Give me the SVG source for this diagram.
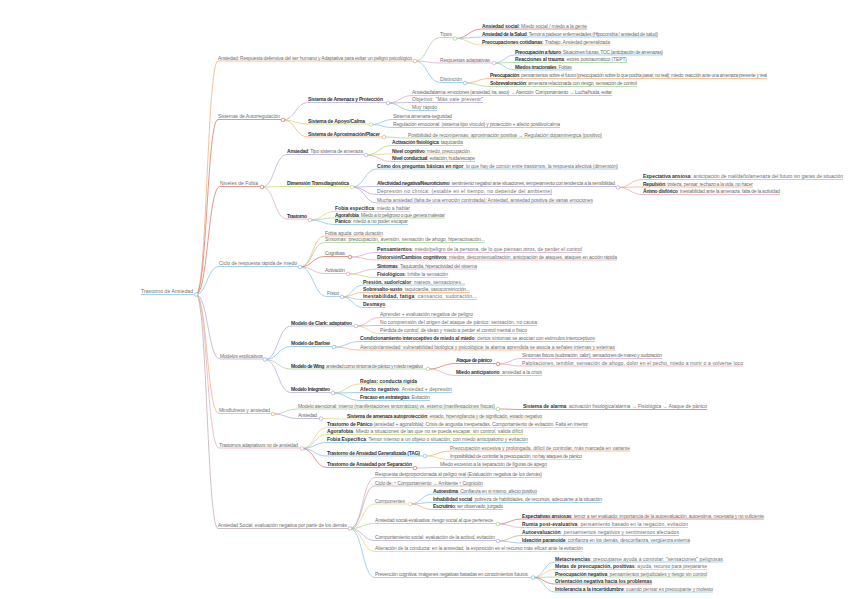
<svg xmlns="http://www.w3.org/2000/svg" width="848" height="599" viewBox="0 0 848 599">
<style>
text{font-family:"Liberation Sans",Arial,sans-serif;font-size:5px;fill:#707070}
.b{font-weight:bold;fill:#333}
.u,.e{fill:none;stroke-width:0.7}
.k{fill:#fff;stroke-width:0.7}
.or{stroke:#f1a86f}.rd{stroke:#d46a5c}.bl{stroke:#7cbfe4}.gr{stroke:#9dd08d}.pu{stroke:#b2a4d6}.pk{stroke:#e5a3b2}.ye{stroke:#e2cf7a}.gy{stroke:#b9a5a8}.lm{stroke:#c6d66c}.mv{stroke:#d8a4cf}
</style>
<rect width="848" height="599" fill="#fff"/>
<g id="connectors">
<path class="e or" d="M196 294.5C207 294.5 207 61 218 61"/>
<path class="e rd" d="M196 294.5C207 294.5 207 119.5 218 119.5"/>
<path class="e rd" d="M196 294.5C208 294.5 208 186.5 220 186.5"/>
<path class="e bl" d="M196 294.5C207 294.5 207 266.5 219 266.5"/>
<path class="e pu" d="M196 294.5C208 294.5 208 359 220 359"/>
<path class="e or" d="M196 294.5C207 294.5 207 413.5 219 413.5"/>
<path class="e pk" d="M196 294.5C207 294.5 207 448 219 448"/>
<path class="e gy" d="M196 294.5C207 294.5 207 528.5 218 528.5"/>
<path class="e gr" d="M415 61C427.5 61 427.5 37.5 440 37.5"/>
<path class="e mv" d="M415 61C427.5 61 427.5 63 440 63"/>
<path class="e bl" d="M415 61C427.5 61 427.5 82.5 440 82.5"/>
<path class="e rd" d="M455 38.5C468.5 38.5 468.5 29 482 29"/>
<path class="e bl" d="M455 38.5C468.5 38.5 468.5 37 482 37"/>
<path class="e ye" d="M455 38.5C468.5 38.5 468.5 45 482 45"/>
<path class="e bl" d="M494 63C504.5 63 504.5 55 515 55"/>
<path class="e gr" d="M494 63C504.5 63 504.5 62.5 515 62.5"/>
<path class="e bl" d="M494 63C504.5 63 504.5 70 515 70"/>
<path class="e or" d="M465 83C477.5 83 477.5 78.5 490 78.5"/>
<path class="e gr" d="M465 83C477.5 83 477.5 86.5 490 86.5"/>
<path class="e pu" d="M283 120C295.5 120 295.5 102.5 308 102.5"/>
<path class="e lm" d="M283 120C295.5 120 295.5 124 308 124"/>
<path class="e or" d="M283 120C295.5 120 295.5 137 308 137"/>
<path class="e pk" d="M388 103C400 103 400 95.5 412 95.5"/>
<path class="e pu" d="M388 103C400 103 400 102.5 412 102.5"/>
<path class="e bl" d="M388 103C400 103 400 110.5 412 110.5"/>
<path class="e bl" d="M371 124.5C382 124.5 382 119.5 393 119.5"/>
<path class="e bl" d="M371 124.5C382 124.5 382 127.5 393 127.5"/>
<path class="e gr" d="M384 137C396 137 396 138 408 138"/>
<path class="e pu" d="M262 187C274.5 187 274.5 154.5 287 154.5"/>
<path class="e lm" d="M262 187C274.5 187 274.5 186.5 287 186.5"/>
<path class="e pk" d="M262 187C274.5 187 274.5 219 287 219"/>
<path class="e gr" d="M366 155C379 155 379 145.5 392 145.5"/>
<path class="e ye" d="M366 155C379 155 379 154 392 154"/>
<path class="e pk" d="M366 155C379 155 379 161.5 392 161.5"/>
<path class="e bl" d="M352 187C364.5 187 364.5 169 377 169"/>
<path class="e pu" d="M352 187C364.5 187 364.5 186.5 377 186.5"/>
<path class="e pu" d="M352 187C364.5 187 364.5 194.5 377 194.5"/>
<path class="e pu" d="M352 187C364.5 187 364.5 203 377 203"/>
<path class="e or" d="M618 187.5C630.5 187.5 630.5 179.5 643 179.5"/>
<path class="e or" d="M618 187.5C630.5 187.5 630.5 187 643 187"/>
<path class="e pk" d="M618 187.5C630.5 187.5 630.5 194.5 643 194.5"/>
<path class="e ye" d="M310 220C322.5 220 322.5 211.5 335 211.5"/>
<path class="e gr" d="M310 220C322.5 220 322.5 218 335 218"/>
<path class="e bl" d="M310 220C322.5 220 322.5 224.5 335 224.5"/>
<path class="e or" d="M300 267C312.5 267 312.5 236 325 236"/>
<path class="e gr" d="M300 267C312.5 267 312.5 242.5 325 242.5"/>
<path class="e rd" d="M300 267C312.5 267 312.5 256.5 325 256.5"/>
<path class="e pk" d="M300 267C312.5 267 312.5 273.5 325 273.5"/>
<path class="e bl" d="M300 267C313.5 267 313.5 296.5 327 296.5"/>
<path class="e mv" d="M350 257C363.5 257 363.5 252.5 377 252.5"/>
<path class="e pk" d="M350 257C363.5 257 363.5 260 377 260"/>
<path class="e mv" d="M348 274C362.5 274 362.5 269 377 269"/>
<path class="e lm" d="M348 274C362.5 274 362.5 277.5 377 277.5"/>
<path class="e bl" d="M342 297C352.5 297 352.5 285 363 285"/>
<path class="e or" d="M342 297C352.5 297 352.5 292.5 363 292.5"/>
<path class="e gr" d="M342 297C352.5 297 352.5 299.5 363 299.5"/>
<path class="e bl" d="M342 297C352.5 297 352.5 307.5 363 307.5"/>
<path class="e pu" d="M265 359.5C278 359.5 278 326 291 326"/>
<path class="e bl" d="M265 359.5C278 359.5 278 346.5 291 346.5"/>
<path class="e gr" d="M265 359.5C278 359.5 278 369 291 369"/>
<path class="e pu" d="M265 359.5C278 359.5 278 392.5 291 392.5"/>
<path class="e pk" d="M356 326C368 326 368 317.5 380 317.5"/>
<path class="e pu" d="M356 326C368 326 368 325.5 380 325.5"/>
<path class="e ye" d="M356 326C368 326 368 333.5 380 333.5"/>
<path class="e bl" d="M334 347C347 347 347 341.5 360 341.5"/>
<path class="e or" d="M334 347C347 347 347 350 360 350"/>
<path class="e rd" d="M428 369C442 369 442 363.5 456 363.5"/>
<path class="e pk" d="M428 369C442 369 442 375.5 456 375.5"/>
<path class="e mv" d="M498 364C510 364 510 358.5 522 358.5"/>
<path class="e pk" d="M498 364C510 364 510 366 522 366"/>
<path class="e lm" d="M333 393C346.5 393 346.5 384 360 384"/>
<path class="e bl" d="M333 393C346.5 393 346.5 392.5 360 392.5"/>
<path class="e bl" d="M333 393C346.5 393 346.5 400.5 360 400.5"/>
<path class="e gr" d="M273 414C285.5 414 285.5 409 298 409"/>
<path class="e pu" d="M273 414C285.5 414 285.5 418.5 298 418.5"/>
<path class="e rd" d="M498 409C510.5 409 510.5 409.5 523 409.5"/>
<path class="e ye" d="M321 418.5C334 418.5 334 419 347 419"/>
<path class="e ye" d="M302 448.5C314.5 448.5 314.5 427.5 327 427.5"/>
<path class="e lm" d="M302 448.5C314.5 448.5 314.5 434.5 327 434.5"/>
<path class="e bl" d="M302 448.5C314.5 448.5 314.5 442.5 327 442.5"/>
<path class="e bl" d="M302 448.5C314.5 448.5 314.5 456 327 456"/>
<path class="e rd" d="M302 448.5C314.5 448.5 314.5 467.5 327 467.5"/>
<path class="e or" d="M425 456C437.5 456 437.5 451 450 451"/>
<path class="e ye" d="M425 456C437.5 456 437.5 459.5 450 459.5"/>
<path class="e mv" d="M415 468C427.5 468 427.5 467.5 440 467.5"/>
<path class="e mv" d="M350 528.5C362.5 528.5 362.5 477.5 375 477.5"/>
<path class="e gy" d="M350 528.5C362.5 528.5 362.5 486 375 486"/>
<path class="e ye" d="M350 528.5C362.5 528.5 362.5 504 375 504"/>
<path class="e gr" d="M350 528.5C362.5 528.5 362.5 523.5 375 523.5"/>
<path class="e pu" d="M350 528.5C362.5 528.5 362.5 540.5 375 540.5"/>
<path class="e ye" d="M350 528.5C362.5 528.5 362.5 551.5 375 551.5"/>
<path class="e bl" d="M350 528.5C362.5 528.5 362.5 577.5 375 577.5"/>
<path class="e bl" d="M410 504C421.5 504 421.5 494 433 494"/>
<path class="e bl" d="M410 504C421.5 504 421.5 502.5 433 502.5"/>
<path class="e or" d="M410 504C421.5 504 421.5 509.5 433 509.5"/>
<path class="e rd" d="M498 524C510 524 510 519 522 519"/>
<path class="e mv" d="M498 524C510 524 510 527.5 522 527.5"/>
<path class="e gy" d="M498 541C510 541 510 535.5 522 535.5"/>
<path class="e bl" d="M498 541C510 541 510 543 522 543"/>
<path class="e bl" d="M533 577.5C544 577.5 544 562 555 562"/>
<path class="e ye" d="M533 577.5C544 577.5 544 569.5 555 569.5"/>
<path class="e gr" d="M533 577.5C544 577.5 544 577 555 577"/>
<path class="e rd" d="M533 577.5C544 577.5 544 584 555 584"/>
<path class="e bl" d="M533 577.5C544 577.5 544 592 555 592"/>
</g>

<g id="root"><text x="141" y="293.3" textLength="52">Trastorno de Ansiedad</text><path class="u bl" d="M141 294.5H194"/><circle class="k bl" cx="196" cy="294.5" r="1.8"/></g>

<g id="n-ansiedad"><text x="218" y="59.8" textLength="194">Ansiedad: Respuesta defensiva del ser humano y Adaptativa para evitar un peligro psicológico</text><path class="u or" d="M218 61H413"/><circle class="k or" cx="415" cy="61" r="1.8"/></g>
<g id="n-tipos"><text x="440" y="36.3" textLength="12">Tipos</text><path class="u gr" d="M440 37.5H453"/><circle class="k gr" cx="455" cy="38.5" r="1.8"/></g>
<g id="n-t1"><text x="482" y="27.8" textLength="105"><tspan class="b">Ansiedad social</tspan>: Miedo social / miedo a la gente</text><path class="u rd" d="M482 29H587"/></g>
<g id="n-t2"><text x="482" y="35.8" textLength="176"><tspan class="b">Ansiedad de la Salud</tspan>: Temor a padecer enfermedades (Hipocondría / ansiedad de salud)</text><path class="u bl" d="M482 37H658"/></g>
<g id="n-t3"><text x="482" y="43.8" textLength="128"><tspan class="b">Preocupaciones cotidianas</tspan>: Trabajo. Ansiedad generalizada</text><path class="u ye" d="M482 45H610"/></g>
<g id="n-resp"><text x="440" y="61.8" textLength="50">Respuestas adaptativas</text><path class="u mv" d="M440 63H492"/><circle class="k mv" cx="494" cy="63" r="1.8"/></g>
<g id="n-r1"><text x="515" y="53.8" textLength="148"><tspan class="b">Preocupación a futuro</tspan>: Situaciones futuras, TOC (anticipación de amenazas)</text><path class="u bl" d="M515 55H663"/></g>
<g id="n-r2"><text x="515" y="61.3" textLength="112"><tspan class="b">Reacciones al trauma</tspan>: estrés postraumático (TEPT)</text><path class="u gr" d="M515 62.5H627"/></g>
<g id="n-r3"><text x="515" y="68.8" textLength="57"><tspan class="b">Miedos irracionales</tspan>: Fobias</text><path class="u bl" d="M515 70H572"/></g>
<g id="n-dist"><text x="440" y="81.3" textLength="22">Distinción</text><path class="u bl" d="M440 82.5H463"/><circle class="k bl" cx="465" cy="83" r="1.8"/></g>
<g id="n-d1"><text x="490" y="77.3" textLength="277"><tspan class="b">Preocupación</tspan>: pensamientos sobre el futuro (preocupación sobre lo que podría pasar, no real); miedo: reacción ante una amenaza presente y real</text><path class="u or" d="M490 78.5H767"/></g>
<g id="n-d2"><text x="490" y="85.3" textLength="147"><tspan class="b">Sobrevaloración</tspan>: amenaza relacionada con riesgo, sensación de control</text><path class="u gr" d="M490 86.5H637"/></g>

<g id="n-sistemas"><text x="218" y="118.3" textLength="62">Sistemas de Autorregulación</text><path class="u rd" d="M218 119.5H281"/><circle class="k rd" cx="283" cy="120" r="1.8"/></g>
<g id="n-s1"><text x="308" y="101.3" textLength="75" class="b">Sistema de Amenaza y Protección</text><path class="u pu" d="M308 102.5H386"/><circle class="k pu" cx="388" cy="103" r="1.8"/></g>
<g id="n-s1a"><text x="412" y="94.3" textLength="200">Ansiedad/alarma: emociones (ansiedad, ira, asco) → Atención: Comportamiento → Lucha/huida, evitar</text><path class="u pk" d="M412 95.5H612"/></g>
<g id="n-s1b"><text x="412" y="101.3" textLength="71">Objetivo: "Más vale prevenir"</text><path class="u pu" d="M412 102.5H483"/></g>
<g id="n-s1c"><text x="412" y="109.3" textLength="25">Muy rápido</text><path class="u bl" d="M412 110.5H437"/></g>
<g id="n-s2"><text x="308" y="122.8" textLength="57" class="b">Sistema de Apoyo/Calma</text><path class="u lm" d="M308 124H369"/><circle class="k lm" cx="371" cy="124.5" r="1.8"/></g>
<g id="n-s2a"><text x="393" y="118.3" textLength="59">Sistema amenaza-seguridad</text><path class="u bl" d="M393 119.5H452"/></g>
<g id="n-s2b"><text x="393" y="126.3" textLength="167">Regulación emocional: (sistema tipo vínculo) y protección + afecto positivo/calma</text><path class="u bl" d="M393 127.5H560"/></g>
<g id="n-s3"><text x="308" y="135.8" textLength="72" class="b">Sistema de Aproximación/Placer</text><path class="u or" d="M308 137H382"/><circle class="k or" cx="384" cy="137" r="1.8"/></g>
<g id="n-s3a"><text x="408" y="136.8" textLength="194">Posibilidad de recompensas, aproximación positiva → Regulación dopaminérgica (positivo)</text><path class="u gr" d="M408 138H602"/></g>

<g id="n-niveles"><text x="220" y="185.3" textLength="38">Niveles de Fobia</text><path class="u rd" d="M220 186.5H260"/><circle class="k rd" cx="262" cy="187" r="1.8"/></g>
<g id="n-n1"><text x="287" y="153.3" textLength="76"><tspan class="b">Ansiedad</tspan>: Tipo sistema de amenaza</text><path class="u pu" d="M287 154.5H364"/><circle class="k pu" cx="366" cy="155" r="1.8"/></g>
<g id="n-n1a"><text x="392" y="144.3" textLength="71"><tspan class="b">Activación fisiológica</tspan>: taquicardia</text><path class="u gr" d="M392 145.5H463"/></g>
<g id="n-n1b"><text x="392" y="152.8" textLength="78"><tspan class="b">Nivel cognitivo</tspan>: miedo, preocupación</text><path class="u ye" d="M392 154H470"/></g>
<g id="n-n1c"><text x="392" y="160.3" textLength="83"><tspan class="b">Nivel conductual</tspan>: evitación, huida/escape</text><path class="u pk" d="M392 161.5H475"/></g>
<g id="n-n2"><text x="287" y="185.3" textLength="62" class="b">Dimensión Transdiagnóstica</text><path class="u lm" d="M287 186.5H350"/><circle class="k lm" cx="352" cy="187" r="1.8"/></g>
<g id="n-n2a"><text x="377" y="167.8" textLength="241"><tspan class="b">Cómo dos preguntas básicas en rigor</tspan>: lo que hay de común entre trastornos, la respuesta afectiva (dimensión)</text><path class="u bl" d="M377 169H618"/></g>
<g id="n-n2b"><text x="377" y="185.3" textLength="238"><tspan class="b">Afectividad negativa/Neuroticismo</tspan>: sentimiento negativo ante situaciones, temperamento con tendencia a la sensibilidad</text><path class="u pu" d="M377 186.5H616"/><circle class="k pu" cx="618" cy="187.5" r="1.8"/></g>
<g id="n-n2b1"><text x="643" y="178.3" textLength="200"><tspan class="b">Expectativa ansiosa</tspan>: anticipación de mal/daño/amenaza del futuro sin ganas de situación</text><path class="u or" d="M643 179.5H843"/></g>
<g id="n-n2b2"><text x="643" y="185.8" textLength="110"><tspan class="b">Repulsión</tspan>: tristeza, pensar, rechazo a la vida, no hacer</text><path class="u or" d="M643 187H753"/></g>
<g id="n-n2b3"><text x="643" y="193.3" textLength="137"><tspan class="b">Ánimo disfórico</tspan>: inestabilidad ante la amenaza, falta de la actividad</text><path class="u pk" d="M643 194.5H780"/></g>
<g id="n-n2c"><text x="377" y="193.3" textLength="175">Depresión no clínica: (estable en el tiempo, no depende del ambiente)</text><path class="u pu" d="M377 194.5H552"/></g>
<g id="n-n2d"><text x="377" y="201.8" textLength="216">Mucha ansiedad (falta de una emoción controlada): Ansiedad, ansiedad positiva de varias emociones</text><path class="u pu" d="M377 203H593"/></g>
<g id="n-n3"><text x="287" y="217.8" textLength="20" class="b">Trastorno</text><path class="u pk" d="M287 219H308"/><circle class="k pk" cx="310" cy="220" r="1.8"/></g>
<g id="n-n3a"><text x="335" y="210.3" textLength="75"><tspan class="b">Fobia específica</tspan>: miedo a hablar</text><path class="u ye" d="M335 211.5H410"/></g>
<g id="n-n3b"><text x="335" y="216.8" textLength="110"><tspan class="b">Agorafobia</tspan>: Miedo a lo peligroso o que genera malestar</text><path class="u gr" d="M335 218H445"/></g>
<g id="n-n3c"><text x="335" y="223.3" textLength="73"><tspan class="b">Pánico</tspan>: miedo a no poder escapar</text><path class="u bl" d="M335 224.5H408"/></g>

<g id="n-ciclo"><text x="219" y="265.3" textLength="78">Ciclo de respuesta rápida de miedo</text><path class="u bl" d="M219 266.5H298"/><circle class="k bl" cx="300" cy="267" r="1.8"/></g>
<g id="n-c1"><text x="325" y="234.8" textLength="58">Fobia aguda: corta duración</text><path class="u or" d="M325 236H383"/></g>
<g id="n-c2"><text x="325" y="241.3" textLength="160">Síntomas: preocupación, aversión, sensación de ahogo, hiperactivación...</text><path class="u gr" d="M325 242.5H485"/></g>
<g id="n-c3"><text x="325" y="255.3" textLength="20">Cognitivas</text><path class="u rd" d="M325 256.5H348"/><circle class="k rd" cx="350" cy="257" r="1.8"/></g>
<g id="n-c3a"><text x="377" y="251.3" textLength="205"><tspan class="b">Pensamientos</tspan>: miedo/peligro de la persona, de lo que piensan otros, de perder el control</text><path class="u mv" d="M377 252.5H582"/></g>
<g id="n-c3b"><text x="377" y="258.8" textLength="240"><tspan class="b">Distorsión/Cambios cognitivos</tspan>: miedos, descontextualización, anticipación de ataques, ataques en acción rápida</text><path class="u pk" d="M377 260H617"/></g>
<g id="n-c4"><text x="325" y="272.3" textLength="20">Activación</text><path class="u pk" d="M325 273.5H346"/><circle class="k pk" cx="348" cy="274" r="1.8"/></g>
<g id="n-c4a"><text x="377" y="267.8" textLength="100"><tspan class="b">Síntomas</tspan>: Taquicardia, hiperactividad del sistema</text><path class="u mv" d="M377 269H477"/></g>
<g id="n-c4b"><text x="377" y="276.3" textLength="71"><tspan class="b">Fisiológicos</tspan>: Inhibe la sensación</text><path class="u lm" d="M377 277.5H448"/></g>
<g id="n-c5"><text x="327" y="295.3" textLength="12">Físico</text><path class="u bl" d="M327 296.5H340"/><circle class="k bl" cx="342" cy="297" r="1.8"/></g>
<g id="n-c5a"><text x="363" y="283.8" textLength="102"><tspan class="b">Presión, sudor/calor</tspan>: mareos, sensaciones...</text><path class="u bl" d="M363 285H465"/></g>
<g id="n-c5b"><text x="363" y="291.3" textLength="107"><tspan class="b">Sobresalto-susto</tspan>: taquicardia, vasoconstricción...</text><path class="u or" d="M363 292.5H470"/></g>
<g id="n-c5c"><text x="363" y="298.3" textLength="114"><tspan class="b">Inestabilidad, fatiga</tspan>: cansancio, sudoración...</text><path class="u gr" d="M363 299.5H477"/></g>
<g id="n-c5d"><text x="363" y="306.3" class="b">Desmayo</text><path class="u bl" d="M363 307.5H385"/></g>

<g id="n-modelos"><text x="220" y="357.8" textLength="43">Modelos explicativos</text><path class="u pu" d="M220 359H263"/><circle class="k pu" cx="265" cy="359.5" r="1.8"/></g>
<g id="n-m1"><text x="291" y="324.8" textLength="61" class="b">Modelo de Clark: adaptativo</text><path class="u pu" d="M291 326H354"/><circle class="k pu" cx="356" cy="326" r="1.8"/></g>
<g id="n-m1a"><text x="380" y="316.3" textLength="93">Aprender + evaluación negativa de peligro</text><path class="u pk" d="M380 317.5H473"/></g>
<g id="n-m1b"><text x="380" y="324.3" textLength="157">No comprensión del origen del ataque de pánico: sensación, no causa</text><path class="u pu" d="M380 325.5H537"/></g>
<g id="n-m1c"><text x="380" y="332.3" textLength="147">Pérdida de control, de ideas y miedo a perder el control mental o físico</text><path class="u ye" d="M380 333.5H527"/></g>
<g id="n-m2"><text x="291" y="345.3" textLength="39" class="b">Modelo de Barlow</text><path class="u bl" d="M291 346.5H332"/><circle class="k bl" cx="334" cy="347" r="1.8"/></g>
<g id="n-m2a"><text x="360" y="340.3" textLength="235"><tspan class="b">Condicionamiento interoceptivo de miedo al miedo</tspan>: ciertos síntomas se asocian con estímulos interoceptivos</text><path class="u bl" d="M360 341.5H595"/></g>
<g id="n-m2b"><text x="360" y="348.8" textLength="255">Atención/ansiedad: vulnerabilidad biológica y psicológica: la alarma aprendida se asocia a señales internas y externas</text><path class="u or" d="M360 350H615"/></g>
<g id="n-m3"><text x="291" y="367.8" textLength="132"><tspan class="b">Modelo de Wing</tspan>: ansiedad como síntoma de pánico y miedo negativo</text><path class="u gr" d="M291 369H426"/><circle class="k gr" cx="428" cy="369" r="1.8"/></g>
<g id="n-m3a"><text x="456" y="362.3" textLength="36" class="b">Ataque de pánico</text><path class="u rd" d="M456 363.5H496"/><circle class="k rd" cx="498" cy="364" r="1.8"/></g>
<g id="n-m3a1"><text x="522" y="357.3" textLength="140">Síntomas físicos (sudoración, calor), sensaciones de mareo y sudoración</text><path class="u mv" d="M522 358.5H662"/></g>
<g id="n-m3a2"><text x="522" y="364.8" textLength="221">Palpitaciones, temblor, sensación de ahogo, dolor en el pecho, miedo a morir o a volverse loco</text><path class="u pk" d="M522 366H743"/></g>
<g id="n-m3b"><text x="456" y="374.3" textLength="86"><tspan class="b">Miedo anticipatorio</tspan>: ansiedad a la crisis</text><path class="u pk" d="M456 375.5H542"/></g>
<g id="n-m4"><text x="291" y="391.3" textLength="39" class="b">Modelo Integrativo</text><path class="u pu" d="M291 392.5H331"/><circle class="k pu" cx="333" cy="393" r="1.8"/></g>
<g id="n-m4a"><text x="360" y="382.8" textLength="57" class="b">Reglas: conducta rígida</text><path class="u lm" d="M360 384H417"/></g>
<g id="n-m4b"><text x="360" y="391.3" textLength="92"><tspan class="b">Afecto negativo</tspan>: Ansiedad + depresión</text><path class="u bl" d="M360 392.5H452"/></g>
<g id="n-m4c"><text x="360" y="399.3" textLength="70"><tspan class="b">Fracaso en estrategias</tspan>: Evitación</text><path class="u bl" d="M360 400.5H430"/></g>

<g id="n-mind"><text x="219" y="412.3" textLength="51">Mindfulness y ansiedad</text><path class="u or" d="M219 413.5H271"/><circle class="k or" cx="273" cy="414" r="1.8"/></g>
<g id="n-f1"><text x="298" y="407.8" textLength="197">Modelo atencional: interno (manifestaciones sintomáticas) vs. externo (manifestaciones físicas)</text><path class="u gr" d="M298 409H496"/><circle class="k gr" cx="498" cy="409" r="1.8"/></g>
<g id="n-f1a"><text x="523" y="408.3" textLength="184"><tspan class="b">Sistema de alarma</tspan>: activación fisiológica/alarma → Fisiológica → Ataque de pánico</text><path class="u rd" d="M523 409.5H707"/></g>
<g id="n-f2"><text x="298" y="417.3" textLength="19">Ansiedad</text><path class="u pu" d="M298 418.5H319"/><circle class="k pu" cx="321" cy="418.5" r="1.8"/></g>
<g id="n-f2a"><text x="347" y="417.8" textLength="195"><tspan class="b">Sistema de amenaza autoprotección</tspan>: estado, hipervigilancia y de significado, estado negativo</text><path class="u ye" d="M347 419H542"/></g>

<g id="n-trast"><text x="219" y="446.8" textLength="79">Trastornos adaptativos no de ansiedad</text><path class="u pk" d="M219 448H300"/><circle class="k pk" cx="302" cy="448.5" r="1.8"/></g>
<g id="n-t-1"><text x="327" y="426.3" textLength="261"><tspan class="b">Trastorno de Pánico</tspan> (ansiedad + agorafobia): Crisis de angustia inesperadas. Comportamiento de evitación. Falta en interior</text><path class="u ye" d="M327 427.5H588"/></g>
<g id="n-t-2"><text x="327" y="433.3" textLength="196"><tspan class="b">Agorafobia</tspan>: Miedo a situaciones de las que no se pueda escapar, sin control, salida difícil</text><path class="u lm" d="M327 434.5H523"/></g>
<g id="n-t-3"><text x="327" y="441.3" textLength="201"><tspan class="b">Fobia Específica</tspan>: Temor intenso a un objeto o situación, con miedo anticipatorio y evitación</text><path class="u bl" d="M327 442.5H528"/></g>
<g id="n-t-4"><text x="327" y="454.8" textLength="93" class="b">Trastorno de Ansiedad Generalizada (TAG)</text><path class="u bl" d="M327 456H423"/><circle class="k bl" cx="425" cy="456" r="1.8"/></g>
<g id="n-t-4a"><text x="450" y="449.8" textLength="180">Preocupación excesiva y prolongada, difícil de controlar, más marcada en variante</text><path class="u or" d="M450 451H630"/></g>
<g id="n-t-4b"><text x="450" y="458.3" textLength="132">Imposibilidad de controlar la preocupación, no hay ataques de pánico</text><path class="u ye" d="M450 459.5H582"/></g>
<g id="n-t-5"><text x="327" y="466.3" textLength="85" class="b">Trastorno de Ansiedad por Separación</text><path class="u rd" d="M327 467.5H413"/><circle class="k rd" cx="415" cy="468" r="1.8"/></g>
<g id="n-t-5a"><text x="440" y="466.3" textLength="107">Miedo excesivo a la separación de figuras de apego</text><path class="u mv" d="M440 467.5H547"/></g>

<g id="n-social"><text x="218" y="527.3" textLength="129">Ansiedad Social: evaluación negativa por parte de los demás</text><path class="u gy" d="M218 528.5H348"/><circle class="k gy" cx="350" cy="528.5" r="1.8"/></g>
<g id="n-so1"><text x="375" y="476.3" textLength="167">Respuesta desproporcionada al peligro real (Evaluación negativa de los demás)</text><path class="u mv" d="M375 477.5H542"/></g>
<g id="n-so2"><text x="375" y="484.8" textLength="108">Ciclo de: ↑ Comportamiento → Ambiente ↑ Cognición</text><path class="u gy" d="M375 486H483"/></g>
<g id="n-so3"><text x="375" y="502.8" textLength="30">Componentes</text><path class="u ye" d="M375 504H408"/><circle class="k ye" cx="410" cy="504" r="1.8"/></g>
<g id="n-so3a"><text x="433" y="492.8" textLength="104"><tspan class="b">Autoestima</tspan>: Confianza en sí mismo, afecto positivo</text><path class="u bl" d="M433 494H537"/></g>
<g id="n-so3b"><text x="433" y="501.3" textLength="169"><tspan class="b">Inhabilidad social</tspan>: pobreza de habilidades, de recursos, adecuarse a la situación</text><path class="u bl" d="M433 502.5H602"/></g>
<g id="n-so3c"><text x="433" y="508.3" textLength="70"><tspan class="b">Escrutinio</tspan>: ser observado, juzgado</text><path class="u or" d="M433 509.5H503"/></g>
<g id="n-so4"><text x="375" y="522.3" textLength="118">Ansiedad social-evaluativa: riesgo social al que pertenece</text><path class="u gr" d="M375 523.5H496"/><circle class="k gr" cx="498" cy="524" r="1.8"/></g>
<g id="n-so4a"><text x="522" y="517.8" textLength="242"><tspan class="b">Expectativas ansiosas</tspan>: temor a ser evaluado; importancia de la autoevaluación, autoestima, necesaria y no suficiente</text><path class="u rd" d="M522 519H764"/></g>
<g id="n-so4b"><text x="522" y="526.3" textLength="166"><tspan class="b">Rumia post-evaluativa</tspan>: pensamiento basado en la negación, evitación</text><path class="u mv" d="M522 527.5H688"/></g>
<g id="n-so5"><text x="375" y="539.3" textLength="120">Comportamiento social: evaluación de la actitud, evitación</text><path class="u pu" d="M375 540.5H496"/><circle class="k pu" cx="498" cy="541" r="1.8"/></g>
<g id="n-so5a"><text x="522" y="534.3" textLength="157"><tspan class="b">Autoevaluación</tspan>: pensamientos negativos y sentimientos afectados</text><path class="u gy" d="M522 535.5H679"/></g>
<g id="n-so5b"><text x="522" y="541.8" textLength="168"><tspan class="b">Ideación paranoide</tspan>: confianza en los demás, desconfianza, vergüenza externa</text><path class="u bl" d="M522 543H690"/></g>
<g id="n-so6"><text x="375" y="550.3" textLength="208">Alteración de la conducta: en la ansiedad, la exposición es el recurso más eficaz ante la evitación</text><path class="u ye" d="M375 551.5H583"/></g>
<g id="n-so7"><text x="375" y="576.3" textLength="153">Prevención cognitiva: imágenes negativas basadas en conocimientos futuros</text><path class="u bl" d="M375 577.5H531"/><circle class="k bl" cx="533" cy="577.5" r="1.8"/></g>
<g id="n-so7a"><text x="555" y="560.8" textLength="168"><tspan class="b">Metacreencias</tspan>: preocuparse ayuda a controlar; "sensaciones" peligrosas</text><path class="u bl" d="M555 562H723"/></g>
<g id="n-so7b"><text x="555" y="568.3" textLength="152"><tspan class="b">Metas de preocupación, positivas</tspan>: ayuda, recurso para prepararse</text><path class="u ye" d="M555 569.5H707"/></g>
<g id="n-so7c"><text x="555" y="575.8" textLength="152"><tspan class="b">Preocupación negativa</tspan>: pensamientos perjudiciales y riesgo sin control</text><path class="u gr" d="M555 577H707"/></g>
<g id="n-so7d"><text x="555" y="582.8" textLength="97" class="b">Orientación negativa hacia los problemas</text><path class="u rd" d="M555 584H652"/></g>
<g id="n-so7e"><text x="555" y="590.8" textLength="158"><tspan class="b">Intolerancia a la incertidumbre</tspan>: cuando pensar es preocupante y molesto</text><path class="u bl" d="M555 592H713"/></g>
</svg>
